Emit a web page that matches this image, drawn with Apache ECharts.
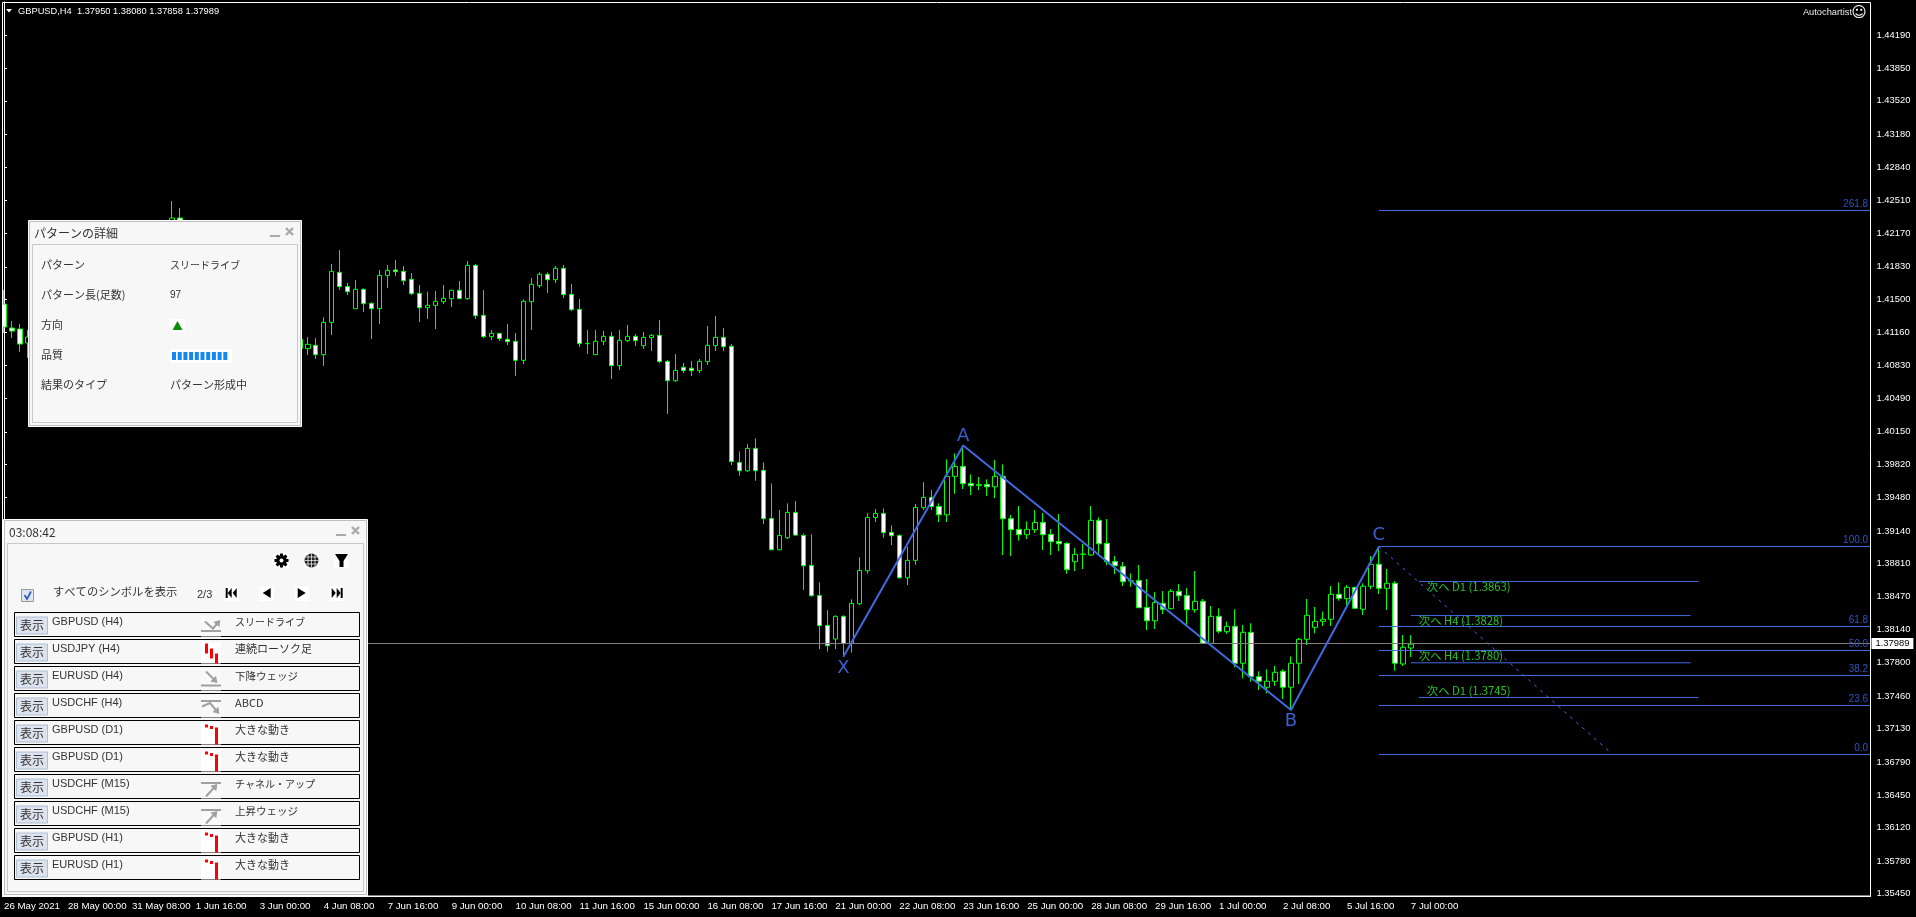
<!DOCTYPE html>
<html><head><meta charset="utf-8">
<style>html,body{margin:0;padding:0;background:#000}#c{width:1916px;height:917px}</style>
<script src="https://cdn.jsdelivr.net/npm/echarts@6/dist/echarts.min.js"></script>
</head><body><div id="c"></div>
<script>
const tickDates=['26 May 2021','28 May 00:00','31 May 08:00','1 Jun 16:00','3 Jun 00:00','4 Jun 08:00','7 Jun 16:00','9 Jun 00:00','10 Jun 08:00','11 Jun 16:00','15 Jun 00:00','16 Jun 08:00','17 Jun 16:00','21 Jun 00:00','22 Jun 08:00','23 Jun 16:00','25 Jun 00:00','28 Jun 08:00','29 Jun 16:00','1 Jul 00:00','2 Jul 08:00','5 Jul 16:00','7 Jul 00:00'];
const priceTicks=[1.44190,1.43850,1.43520,1.43180,1.42840,1.42510,1.42170,1.41830,1.41500,1.41160,1.40830,1.40490,1.40150,1.39820,1.39480,1.39140,1.38810,1.38470,1.38140,1.37800,1.37460,1.37130,1.36790,1.36450,1.36120,1.35780,1.35450];
const opens=[
1.41451,1.41207,1.41197,1.41054,1.4110,1.4128,1.4118,1.4142,1.4136,1.4158,
1.4172,1.4163,1.4181,1.4176,1.4195,1.4188,1.4206,1.4199,1.4214,1.4221,
1.4212,1.4225,1.42327,1.4215,1.4200,1.4207,1.4190,1.4178,1.4185,1.4169,
1.4156,1.4162,1.4147,1.4135,1.4128,1.4134,1.4120,1.4109,1.40997,1.41031,
1.40936,1.41265,1.41774,1.41631,1.41404,1.41601,1.41458,1.41404,1.41743,1.41798,
1.41784,1.41703,1.41560,1.41414,1.41438,1.41475,1.41506,1.41591,1.41506,1.41845,
1.41336,1.41119,1.41153,1.41092,1.41072,1.40878,1.41475,1.41638,1.41754,1.41699,
1.41815,1.41550,1.41397,1.41048,1.40936,1.41072,1.41122,1.40824,1.41078,1.41122,
1.41027,1.41109,1.41133,1.40868,1.40671,1.40807,1.40797,1.40773,1.40865,1.41027,
1.41112,1.41021,1.39839,1.39754,1.39982,1.39758,1.39269,1.38950,1.39072,1.39330,
1.39096,1.38791,1.38485,1.38180,1.38041,1.38272,1.37997,1.38400,1.38736,1.39279,
1.39320,1.39127,1.39096,1.38665,1.38842,1.39378,1.39483,1.39391,1.39306,1.39697,
1.39798,1.39625,1.39605,1.39615,1.39591,1.39697,1.39266,1.39157,1.39103,1.39154,
1.39228,1.39106,1.39035,1.39015,1.38828,1.38903,1.38896,1.39249,1.39015,1.38831,
1.38780,1.38635,1.38638,1.38363,1.38227,1.38404,1.38350,1.38526,1.38485,1.38339,
1.38425,1.37997,1.38272,1.38116,1.38170,1.37794,1.38109,1.37658,1.37550,1.37611,
1.37712,1.37550,1.37794,1.38038,1.38160,1.38221,1.38242,1.38496,1.38452,1.38567,
1.38344,1.38578,1.38802,1.38557,1.38608,1.37787,1.37950];
const closes=[
1.41217,1.41176,1.41044,1.41115,1.4128,1.4118,1.4142,1.4136,1.4158,1.4172,
1.4163,1.4181,1.4176,1.4195,1.4188,1.4206,1.4199,1.4214,1.4221,1.4212,
1.4225,1.42327,1.4215,1.4200,1.4207,1.4190,1.4178,1.4185,1.4169,1.4156,
1.4162,1.4147,1.4135,1.4128,1.4134,1.4120,1.4109,1.4100,1.41041,1.40936,
1.41265,1.41784,1.41628,1.41577,1.41601,1.41455,1.41404,1.41743,1.41794,1.41781,
1.41689,1.41557,1.41414,1.41438,1.41479,1.41509,1.41591,1.41506,1.41845,1.41333,
1.41119,1.41153,1.41099,1.41068,1.40878,1.41479,1.41652,1.41754,1.41699,1.41815,
1.41547,1.41394,1.41048,1.41051,1.41072,1.41122,1.40824,1.41082,1.41122,1.41078,
1.41112,1.41133,1.40865,1.40671,1.40776,1.40773,1.40773,1.40868,1.41031,1.41112,
1.41017,1.39847,1.39754,1.39982,1.39754,1.39266,1.38950,1.39096,1.39330,1.39099,
1.38787,1.38482,1.38177,1.37973,1.38272,1.37997,1.38404,1.38740,1.39279,1.39320,
1.39123,1.39093,1.38665,1.38842,1.39381,1.39483,1.39391,1.39306,1.39697,1.39798,
1.39622,1.39602,1.39615,1.39591,1.39697,1.39266,1.39154,1.39103,1.39157,1.39228,
1.39103,1.39032,1.39011,1.38747,1.38903,1.38906,1.39249,1.39011,1.38828,1.38787,
1.38624,1.38631,1.38360,1.38227,1.38414,1.38343,1.38526,1.38482,1.38339,1.38424,
1.37997,1.38272,1.38120,1.38170,1.37794,1.38109,1.37658,1.37611,1.37611,1.37702,
1.37550,1.37794,1.38038,1.38282,1.38221,1.38242,1.38496,1.38455,1.38567,1.38354,
1.38578,1.38802,1.38557,1.38608,1.37794,1.37957,1.37989];
const lows=[
1.41156,1.41105,1.40963,1.40902,1.4102,1.4110,1.4112,1.4128,1.4130,1.4150,
1.4155,1.4159,1.4168,1.4171,1.4180,1.4184,1.4192,1.4195,1.4208,1.4205,
1.4207,1.4220,1.4208,1.4193,1.4196,1.4184,1.4170,1.4173,1.4162,1.4150,
1.4151,1.4140,1.4129,1.4121,1.4120,1.4113,1.4103,1.4096,1.40932,1.40892,
1.40820,1.41136,1.41594,1.41543,1.41404,1.41370,1.41095,1.41248,1.41614,1.41737,
1.41645,1.41543,1.41268,1.41299,1.41197,1.41452,1.41421,1.41502,1.41492,1.41299,
1.41105,1.41085,1.41075,1.41034,1.40719,1.40841,1.41187,1.41614,1.41564,1.41665,
1.41513,1.41380,1.41014,1.40943,1.40936,1.41034,1.40688,1.40780,1.41065,1.41024,
1.40993,1.40973,1.40851,1.40332,1.40658,1.40749,1.40719,1.40749,1.40831,1.40973,
1.40973,1.39813,1.39703,1.39741,1.39652,1.39211,1.38950,1.38950,1.39059,1.39093,
1.38540,1.38472,1.37939,1.37912,1.37939,1.37861,1.37902,1.38387,1.38706,1.39232,
1.39072,1.38998,1.38655,1.38590,1.38797,1.39354,1.39354,1.39232,1.39232,1.39520,
1.39568,1.39507,1.39557,1.39496,1.39476,1.38896,1.38886,1.39042,1.39059,1.39120,
1.38947,1.38896,1.38937,1.38706,1.38733,1.38753,1.38889,1.38896,1.38794,1.38702,
1.38580,1.38573,1.38360,1.38132,1.38143,1.38295,1.38343,1.38428,1.38183,1.38309,
1.37997,1.37997,1.38099,1.38092,1.37753,1.37641,1.37607,1.37522,1.37488,1.37563,
1.37431,1.37319,1.37583,1.37980,1.38099,1.38174,1.38174,1.38432,1.38388,1.38347,
1.38286,1.38547,1.38500,1.38337,1.37719,1.37767,1.37858];
const highs=[
1.41594,1.41278,1.41248,1.41187,1.4135,1.4134,1.4150,1.4151,1.4166,1.4180,
1.4178,1.4188,1.4192,1.4203,1.4201,1.4213,1.4216,1.4220,1.4227,1.4226,
1.4228,1.42500,1.42429,1.4222,1.4213,1.4212,1.4196,1.4191,1.4188,1.4174,
1.4168,1.4165,1.4151,1.4140,1.4139,1.4137,1.4124,1.4113,1.41116,1.41105,
1.41316,1.41859,1.42001,1.41665,1.41696,1.41611,1.41469,1.41798,1.41849,1.41899,
1.41838,1.41767,1.41645,1.41577,1.41584,1.41645,1.41591,1.41686,1.41889,1.41859,
1.41594,1.41187,1.41153,1.41248,1.41156,1.41499,1.41716,1.41774,1.41774,1.41838,
1.41849,1.41655,1.41502,1.41187,1.41187,1.41177,1.41167,1.41187,1.41238,1.41146,
1.41167,1.41146,1.41289,1.40882,1.40943,1.40851,1.40871,1.40892,1.41228,1.41329,
1.41207,1.41044,1.39951,1.40026,1.40083,1.39839,1.39625,1.39354,1.39422,1.39445,
1.39116,1.39106,1.38618,1.38336,1.38282,1.38282,1.38445,1.38872,1.39320,1.39364,
1.39371,1.39198,1.39106,1.38981,1.39415,1.39639,1.39557,1.39422,1.39870,1.39931,
1.40012,1.39717,1.39690,1.39666,1.39863,1.39819,1.39303,1.39395,1.39239,1.39354,
1.39323,1.39160,1.39313,1.39025,1.38967,1.39008,1.39395,1.39279,1.39262,1.38886,
1.38825,1.38709,1.38794,1.38652,1.38519,1.38529,1.38550,1.38601,1.38560,1.38733,
1.38449,1.38377,1.38354,1.38218,1.38344,1.38184,1.38201,1.37712,1.37733,1.37767,
1.37733,1.37865,1.38052,1.38449,1.38367,1.38320,1.38581,1.38618,1.38591,1.38567,
1.38608,1.38886,1.38981,1.38754,1.38632,1.38082,1.38080];
const pivotNames=['X','A','B','C'];
const pivotBars=[105,120,161,172];
const pivotPrices=[1.37861,1.40012,1.37318,1.38981];
const fibNames=['261.8','100.0','61.8','50.0','38.2','23.6','0.0'];
const fibPrices=[1.424034,1.389829,1.381685,1.379242,1.376697,1.373643,1.368655];
const nextNames=['次へ D1 (1.3863)','次へ H4 (1.3828)','次へ H4 (1.3780)','次へ D1 (1.3745)'];
const nextPrices=[1.38627,1.3828,1.37799,1.37446];
const nextStart=[177,176,176,177];
const nextEnd=[212,211,211,212];
const projBars=[172,200.9];
const projPrices=[1.38981,1.36891];
const lastPrice=1.37989;
const lastPriceLine=1.37995;
const headerText='GBPUSD,H4  1.37950 1.38080 1.37858 1.37989';
const rowSymbols=['GBPUSD (H4)','USDJPY (H4)','EURUSD (H4)','USDCHF (H4)','GBPUSD (D1)','GBPUSD (D1)','USDCHF (M15)','USDCHF (M15)','GBPUSD (H1)','EURUSD (H1)'];
const rowPatterns=['スリードライブ','連続ローソク足','下降ウェッジ','ABCD','大きな動き','大きな動き','チャネル・アップ','上昇ウェッジ','大きな動き','大きな動き'];
const rowIcons=['drive','red3','wedgeDown','abcd','big','big','up','up','big','big'];
const detailLabels=['パターン','パターン長(足数)','方向','品質','結果のタイプ'];
const detailValues=['スリードライブ','97','','','パターン形成中'];

const BAR_COUNT=234;
const categories=Array.from({length:BAR_COUNT},(_,i)=>(i%8===0&&tickDates[i/8])||'');
const candles=opens.map((o,i)=>[o,closes[i],lows[i],highs[i]]);
const BLUE='#4169e1', LABELBLUE='#2f52c4', AF='"Liberation Sans",Arial,sans-serif', JF='"Noto Sans CJK JP",sans-serif';
const patternFontSize={'スリードライブ':10,'チャネル・アップ':10,'下降ウェッジ':10.5,'上昇ウェッジ':10.5};
const Z=100;
const els=[];
const rect=(x,y,w,h,fill,stroke,lw)=>els.push({type:'rect',z:Z,silent:true,shape:{x,y,width:w,height:h},style:{fill:fill||'none',stroke:stroke||'none',lineWidth:lw||1}});
const text=(x,y,t,size,fill,font,align)=>els.push({type:'text',z:Z+1,silent:true,x,y,style:{text:t,fontSize:size,fontFamily:font||JF,fill:fill||'#333',align:align||'left',verticalAlign:'middle'}});
const poly=(pts,fill)=>els.push({type:'polygon',z:Z+1,silent:true,shape:{points:pts},style:{fill}});
const pline=(pts,stroke,lw)=>els.push({type:'polyline',z:Z+1,silent:true,shape:{points:pts},style:{stroke,lineWidth:lw||1,fill:'none'}});
const circle=(cx,cy,r,fill)=>els.push({type:'circle',z:Z+1,silent:true,shape:{cx,cy,r},style:{fill}});
function arrow(pts,col){
  pline(pts,col,2);
  const a=pts[pts.length-2],b=pts[pts.length-1];
  const dx=b[0]-a[0],dy=b[1]-a[1],L=Math.hypot(dx,dy),ux=dx/L,uy=dy/L;
  poly([[b[0]+ux*2,b[1]+uy*2],[b[0]-ux*4-uy*4,b[1]-uy*4+ux*4],[b[0]-ux*4+uy*4,b[1]-uy*4-ux*4]],col);
}
function windowFrame(x,y,w,h,title,innerTop){
  rect(x+.5,y+.5,w-1,h-1,'#f7f7f7','#ffffff',1);
  rect(x+1.5,y+1.5,w-3,h-3,'none','#bdbdbd',1);
  rect(x+4.5,innerTop+.5,w-9,y+h-innerTop-5,'none','#c8c8c8',1);
  text(x+6,(y+innerTop)/2+1,title,12,'#333');
  rect(x+w-32,y+15,10,2,'#aaa');
  pline([[x+w-16,y+8],[x+w-9,y+15]],'#aaa',2.4);
  pline([[x+w-9,y+8],[x+w-16,y+15]],'#aaa',2.4);
}
// detail window
windowFrame(28,220,274,207,'パターンの詳細',244);
detailLabels.forEach((t,i)=>{
  const y=265+i*30;
  text(41,y,t,11,'#333');
  if(detailValues[i]) text(170,y,detailValues[i],i===1?10:(i===0?10:11),'#333',i===1?AF:JF);
});
rect(170,319,15,14,'#fff');
poly([[177.5,321],[172.5,330],[182.5,330]],'#0a8f0a');
rect(170,349,62,14,'#fff');
for(let s=0;s<10;s++) rect(172+s*5.7,352,4,8,'#1488f0');
// scanner window
windowFrame(3,519,365,377,'03:08:42',543);
// gear
rect(274,553,15,15,'#fff');
for(let a=0;a<8;a++){
  const t=a*Math.PI/4,c=Math.cos(t),s=Math.sin(t);
  const P=(r,o)=>[281.5+c*r-s*o,560.5+s*r+c*o];
  poly([P(3,-1.8),P(7,-1.4),P(7,1.4),P(3,1.8)],'#000');
}
circle(281.5,560.5,5,'#000');circle(281.5,560.5,2,'#fff');
rect(304,553,15,15,'#fff');
circle(311.5,560.5,7,'#222');
pline([[304.5,560.5],[318.5,560.5]],'#fff',.7);pline([[304.5,557],[318.5,557]],'#fff',.7);pline([[304.5,564],[318.5,564]],'#fff',.7);
pline([[311.5,553.5],[311.5,567.5]],'#fff',.7);pline([[308,553.5],[308,567.5]],'#fff',.7);pline([[315,553.5],[315,567.5]],'#fff',.7);
rect(334,553,15,15,'#fff');
poly([[335,554],[348,554],[343.5,561],[343.5,567],[339.5,567],[339.5,561]],'#000');
rect(21.5,589.5,12,12,'#dfe6f2','#999',1);
pline([[24.5,595],[27,599],[31,591.5]],'#3060c0',1.8);
text(53,592,'すべてのシンボルを表示',11.3,'#333');
text(197,594.5,'2/3',11,'#333',AF);
[[231.7,'first'],[266.7,'prev'],[301.7,'next'],[336.7,'last']].forEach(([cx,k])=>{
  rect(cx-7,586,14,15,'#fff');
  if(k==='prev') poly([[cx+4,588],[cx+4,598],[cx-4,593]],'#000');
  if(k==='next') poly([[cx-4,588],[cx-4,598],[cx+4,593]],'#000');
  if(k==='first'){rect(cx-6,588,2,10,'#000');poly([[cx,588],[cx,598],[cx-4,593]],'#000');poly([[cx+5,588],[cx+5,598],[cx+1,593]],'#000');}
  if(k==='last'){rect(cx+4,588,2,10,'#000');poly([[cx,588],[cx,598],[cx+4,593]],'#000');poly([[cx-5,588],[cx-5,598],[cx-1,593]],'#000');}
});
rowSymbols.forEach((sym,i)=>{
  const y=612.5+i*27;
  rect(14.5,y,345,24,'none','#000',1);
  rect(16.5,y+4.5,31,17,'#dde3ee','#aebfd2',1);
  text(32,y+13,'表示',12,'#333',JF,'center');
  text(52,y+9.5,sym,11,'#333',AF);
  text(235,y+9.5,rowPatterns[i],patternFontSize[rowPatterns[i]]||11,'#333');
  const ic=rowIcons[i],G='#a0a0a0';
  rect(201,y+3,20,21,ic==='red3'||ic==='big'?'#fff':'#f9f9f9');
  if(ic==='red3'){rect(205,y+4,3,10,'#f00');rect(210,y+9,3,10,'#f00');rect(215,y+14,3,10,'#f00');}
  if(ic==='big'){rect(205,y+4,3,3,'#f00');rect(210,y+5.5,3,3,'#f00');rect(215,y+7,3,17,'#f00');}
  if(ic==='drive'){rect(201,y+17.5,20,2,G);arrow([[205,y+9],[213,y+16],[219,y+9]],G);}
  if(ic==='wedgeDown'){rect(201,y+18,20,2,G);arrow([[206,y+5],[216,y+15]],G);}
  if(ic==='abcd'){rect(201,y+6.5,20,2,G);arrow([[202,y+13],[210,y+9.5],[218,y+19]],G);}
  if(ic==='up'){rect(201,y+7.5,20,2,G);arrow([[206,y+22],[216,y+11]],G);}
});
// chart furniture
rect(0,0,2,917,'#000');
rect(2.5,2.5,1868,893.5,'none','#fff',1);
poly([[6,9],[12,9],[9,12.5]],'#fff');
text(18,11,headerText,9.3,'#fff',AF);
text(1852,12,'Autochartist',9.3,'#e8e8e8',AF,'right');
text(1859,13,'☺',15,'#fff','"DejaVu Sans"','center');

const overlay=(o)=>Object.assign({type:'line',xAxisIndex:1,yAxisIndex:0,silent:true,animation:false,symbol:'circle',symbolSize:0,showSymbol:true,z:5},o);
const series=[{
  type:'candlestick',data:candles,barWidth:5,clip:true,animation:false,silent:true,z:3,
  itemStyle:{color:'#000',color0:'#fff',borderColor:'#00ff00',borderColor0:'#00ff00',borderColorDoji:'#00ff00',borderWidth:1}
}];
series.push(overlay({name:'price',clip:false,lineStyle:{color:'#808080',width:1},
  data:[[-0.5,lastPriceLine],{value:[233.5,lastPriceLine],label:{show:true,position:'right',distance:1,formatter:lastPrice.toFixed(5),backgroundColor:'#fff',color:'#000',fontFamily:AF,fontSize:9.4,padding:[1,4,0,4],lineHeight:10}}]}));
fibNames.forEach((n,i)=>series.push(overlay({lineStyle:{color:BLUE,width:1},
  data:[[172,fibPrices[i]],{value:[233.2,fibPrices[i]],label:{show:true,position:'top',align:'right',distance:1,formatter:n,color:LABELBLUE,fontFamily:AF,fontSize:10}},[233.5,fibPrices[i]]]})));
nextNames.forEach((n,i)=>series.push(overlay({lineStyle:{color:BLUE,width:1},
  data:[[nextStart[i],nextPrices[i]],{value:[nextStart[i]+1,nextPrices[i]],label:{show:true,position:nextPrices[i]>lastPrice?'bottom':'top',align:'left',distance:nextPrices[i]>lastPrice?0:1,formatter:n,color:'#25c425',fontFamily:JF,fontSize:11.3}},[nextEnd[i],nextPrices[i]]]})));
series.push(overlay({lineStyle:{color:BLUE,width:1,type:[3,5]},data:projBars.map((b,i)=>[b,projPrices[i]])}));
const pivotDist={X:3,A:0,B:2.5,C:2};
series.push(overlay({lineStyle:{color:BLUE,width:2},
  data:pivotBars.map((b,i)=>({value:[b,pivotPrices[i]],label:{show:true,position:(pivotNames[i]==='X'||pivotNames[i]==='B')?'bottom':'top',distance:pivotDist[pivotNames[i]],formatter:pivotNames[i],color:'#3a5fd0',fontFamily:'"DejaVu Sans",sans-serif',fontSize:18}}))}));

const chart=echarts.init(document.getElementById('c'),null,{renderer:'canvas'});
chart.setOption({
  animation:false,backgroundColor:'#000',
  grid:{left:-1,right:45.5,top:2,bottom:21,containLabel:false},
  xAxis:[{type:'category',data:categories,boundaryGap:true,
    axisLine:{lineStyle:{color:'#fff'}},
    axisTick:{alignWithLabel:true,length:3,interval:(i)=>i%8===0,lineStyle:{color:'#fff'}},
    axisLabel:{interval:(i)=>i%8===0&&i/8<tickDates.length,color:'#fff',fontFamily:AF,fontSize:9.7,align:'left',margin:5,hideOverlap:false,showMinLabel:true,showMaxLabel:true},
    splitLine:{show:false}},
   {type:'value',show:false,min:-0.5,max:233.5,splitLine:{show:false}}],
  yAxis:[{type:'value',position:'right',min:1.35425,max:1.44526,
    axisLine:{show:true,lineStyle:{color:'#fff'}},
    axisTick:{show:true,length:3,lineStyle:{color:'#fff'},customValues:priceTicks},
    axisLabel:{color:'#fff',fontFamily:AF,fontSize:9.4,margin:6,customValues:priceTicks,formatter:(v)=>v.toFixed(5),showMinLabel:true,showMaxLabel:true},
    splitLine:{show:false}}],
  tooltip:{show:false},legend:{show:false},
  series,graphic:{elements:els}
});
</script></body></html>
